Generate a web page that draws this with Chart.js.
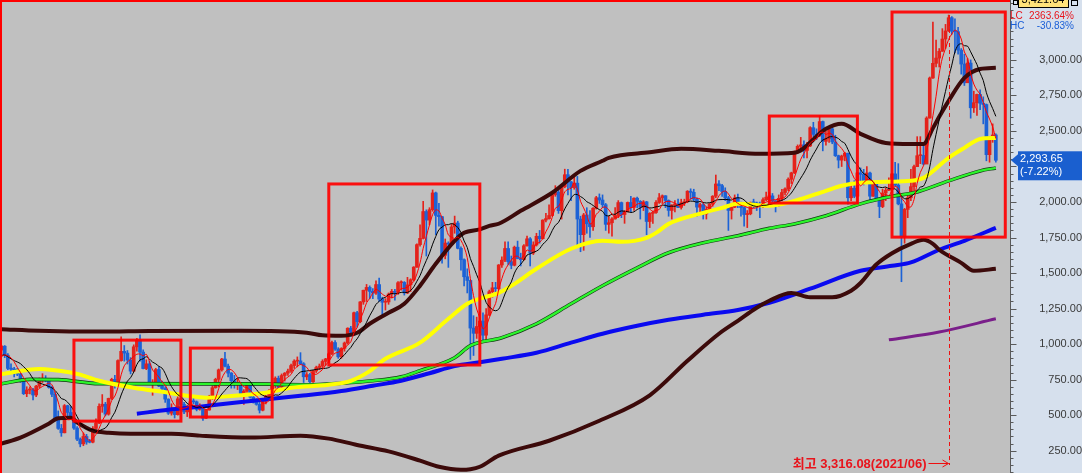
<!DOCTYPE html>
<html>
<head>
<meta charset="utf-8">
<script src="https://cdn.jsdelivr.net/npm/chart.js@4.4.0/dist/chart.umd.min.js"></script>
<style>
  html, body { margin: 0; padding: 0; background: #d6e0ed; }
  #wrap { width: 1082px; height: 473px; }
</style>
</head>
<body>
<div id="wrap"><canvas id="chart" width="1082" height="473"></canvas></div>
<script>
// Monthly candles, 1996/05 .. 2022/09
const opens = [
  958, 985, 922, 829, 824, 818, 789, 743,
  651, 677, 678, 642, 704, 741, 745, 741, 696, 647, 470, 407,
  376, 567, 519, 481, 409, 331, 298, 350, 311, 310, 407, 445,
  562, 577, 507, 618, 752, 716, 884, 949, 937, 888, 810, 981,
  1028, 944, 828, 861, 725, 731, 821, 705, 688, 613, 514, 526,
  504, 615, 576, 523, 562, 595, 594, 541, 546, 479, 536, 633,
  693, 752, 819, 895, 845, 796, 742, 716, 722, 646, 669, 718,
  627, 591, 576, 535, 599, 633, 670, 719, 760, 697, 779, 796,
  810, 849, 880, 882, 862, 770, 785, 735, 811, 835, 845, 878,
  896, 932, 1011, 965, 911, 970, 1008, 1112, 1083, 1221, 1158, 1297,
  1379, 1399, 1371, 1359, 1419, 1317, 1295, 1297, 1352, 1371, 1364, 1432,
  1434, 1360, 1417, 1453, 1542, 1700, 1744, 1933, 1873, 1946, 2064, 1906,
  1897, 1625, 1711, 1704, 1825, 1852, 1674, 1594, 1474, 1448, 1113, 1076,
  1124, 1162, 1063, 1206, 1369, 1396, 1390, 1557, 1591, 1673, 1580, 1555,
  1682, 1602, 1594, 1692, 1741, 1641, 1698, 1759, 1742, 1873, 1883, 1905,
  2051, 2069, 1939, 2107, 2192, 2142, 2101, 2133, 1880, 1770, 1909, 1847,
  1826, 1956, 2030, 2014, 1981, 1843, 1854, 1881, 1905, 1996, 1912, 1933,
  1997, 1962, 2027, 2005, 1964, 2001, 1863, 1920, 1926, 1997, 2030, 2044,
  2011, 1941, 1980, 1986, 1962, 1995, 2002, 2076, 2068, 2020, 1964, 1981,
  1916, 1949, 1986, 2041, 2127, 2115, 2074, 2030, 1941, 1963, 2029, 1991,
  1961, 1912, 1917, 1996, 1994, 1983, 1970, 2016, 2034, 2043, 2008, 1983,
  2026, 2067, 2092, 2160, 2205, 2347, 2392, 2402, 2363, 2394, 2523, 2476,
  2467, 2566, 2427, 2445, 2515, 2423, 2326, 2295, 2323, 2343, 2030, 2097,
  2041, 2205, 2195, 2141, 2204, 2041, 2131, 2025, 1968, 2063, 2083, 2088,
  2198, 2119, 1987, 1755, 1948, 2030, 2108, 2249, 2326, 2328, 2267, 2591,
  2873, 2976, 3013, 3061, 3147, 3204, 3297, 3202, 3199, 3069, 2971, 2839,
  2978, 2663, 2699, 2757, 2695, 2686, 2333, 2452, 2472
];
const highs = [
  992, 990, 934, 862, 836, 830, 800, 755,
  700, 700, 688, 710, 762, 792, 778, 750, 705, 660, 530, 435,
  575, 570, 560, 490, 420, 340, 375, 365, 330, 420, 475, 580,
  645, 590, 620, 760, 780, 890, 1052, 990, 955, 905, 995, 1040,
  1066, 960, 890, 880, 750, 830, 840, 740, 700, 615, 580, 545,
  630, 625, 590, 570, 610, 630, 600, 580, 550, 540, 640, 705,
  760, 825, 900, 943, 860, 800, 780, 760, 725, 680, 730, 730,
  640, 615, 590, 610, 640, 680, 730, 770, 775, 790, 800, 825,
  860, 890, 910, 940, 870, 800, 795, 815, 845, 860, 890, 900,
  940, 1022, 1025, 975, 975, 1015, 1115, 1125, 1225, 1230, 1300, 1380,
  1420, 1410, 1390, 1445, 1465, 1330, 1320, 1360, 1385, 1385, 1440, 1445,
  1440, 1470, 1460, 1545, 1705, 1840, 2005, 1945, 1960, 2085, 2070, 1990,
  1900, 1740, 1720, 1845, 1901, 1865, 1685, 1600, 1530, 1450, 1200, 1190,
  1230, 1220, 1250, 1380, 1435, 1435, 1560, 1615, 1720, 1720, 1620, 1690,
  1725, 1640, 1700, 1760, 1750, 1720, 1780, 1800, 1875, 1920, 1980, 2055,
  2115, 2090, 2110, 2231, 2230, 2145, 2190, 2180, 1900, 1920, 1960, 1940,
  1960, 2040, 2057, 2050, 1990, 1900, 1890, 1960, 2010, 2000, 1940, 2000,
  2040, 2030, 2035, 2010, 2010, 2005, 1925, 1935, 2010, 2060, 2050, 2045,
  2015, 1980, 2010, 2020, 2020, 2020, 2080, 2093, 2090, 2030, 1990, 1990,
  1965, 1990, 2045, 2190, 2150, 2125, 2100, 2040, 1990, 2050, 2055, 2000,
  1965, 1940, 2000, 2020, 2000, 2000, 2030, 2070, 2070, 2060, 2010, 2050,
  2090, 2100, 2170, 2210, 2360, 2402, 2455, 2430, 2420, 2530, 2561, 2515,
  2607, 2570, 2500, 2520, 2530, 2470, 2330, 2330, 2350, 2345, 2120, 2150,
  2210, 2240, 2230, 2250, 2210, 2140, 2140, 2030, 2090, 2100, 2170, 2200,
  2280, 2270, 2060, 1955, 2060, 2230, 2260, 2460, 2460, 2420, 2600, 2880,
  3266, 3140, 3080, 3220, 3250, 3316.08, 3305, 3290, 3230, 3080, 3040, 3010,
  3000, 2780, 2760, 2790, 2740, 2690, 2460, 2550, 2480
];
const lows = [
  931, 905, 820, 808, 770, 778, 730, 645,
  630, 650, 607, 630, 690, 730, 735, 690, 630, 460, 400, 351,
  375, 490, 475, 400, 320, 277, 285, 295, 305, 305, 400, 440,
  520, 495, 500, 610, 690, 710, 880, 880, 860, 790, 805, 950,
  880, 825, 820, 720, 640, 725, 700, 670, 590, 505, 500, 480,
  500, 570, 510, 490, 550, 580, 530, 535, 463, 475, 535, 610,
  690, 700, 810, 840, 770, 690, 690, 680, 640, 575, 660, 620,
  585, 570, 515, 530, 580, 620, 660, 690, 680, 690, 740, 780,
  800, 830, 840, 855, 730, 750, 719, 730, 800, 820, 830, 850,
  870, 925, 955, 900, 900, 950, 1000, 1055, 1075, 1120, 1150, 1280,
  1300, 1320, 1320, 1350, 1300, 1200, 1240, 1280, 1325, 1310, 1350, 1380,
  1345, 1355, 1370, 1445, 1540, 1690, 1740, 1620, 1840, 1935, 1770, 1830,
  1570, 1600, 1540, 1700, 1780, 1670, 1520, 1410, 1360, 892, 920, 1040,
  1080, 1018, 1020, 1200, 1330, 1340, 1380, 1540, 1580, 1560, 1530, 1550,
  1600, 1550, 1590, 1690, 1550, 1630, 1690, 1710, 1740, 1860, 1880, 1900,
  2040, 1920, 1880, 2100, 2050, 2010, 2090, 1680, 1650, 1660, 1780, 1750,
  1800, 1950, 1990, 1960, 1800, 1780, 1760, 1880, 1890, 1890, 1850, 1930,
  1930, 1940, 1960, 1880, 1940, 1770, 1820, 1850, 1920, 1990, 1990, 1960,
  1900, 1880, 1930, 1960, 1950, 1975, 1995, 2020, 2010, 1900, 1930, 1880,
  1880, 1940, 1970, 2030, 2080, 2040, 2010, 1800, 1880, 1960, 1960, 1900,
  1830, 1820, 1910, 1960, 1940, 1890, 1960, 2010, 1990, 2000, 1930, 1970,
  2010, 2050, 2080, 2130, 2200, 2340, 2380, 2310, 2310, 2390, 2460, 2440,
  2460, 2360, 2400, 2420, 2410, 2320, 2240, 2250, 2290, 1985, 2010, 2030,
  1990, 2150, 2120, 2140, 2010, 2040, 2010, 1890, 1960, 2010, 2080, 2070,
  2110, 1980, 1439, 1710, 1890, 2010, 2080, 2250, 2270, 2260, 2270, 2590,
  2870, 2950, 2950, 3060, 3080, 3200, 3180, 3050, 3040, 2900, 2820, 2840,
  2590, 2630, 2610, 2650, 2550, 2290, 2280, 2420, 2280
];
const closes = [
  985, 922, 829, 824, 818, 789, 743, 651,
  677, 678, 642, 704, 741, 745, 741, 696, 647, 470, 407, 376,
  567, 519, 481, 409, 331, 298, 350, 311, 310, 407, 445, 562,
  577, 507, 618, 752, 716, 884, 949, 937, 888, 810, 981, 1028,
  944, 828, 861, 725, 731, 821, 705, 688, 613, 514, 526, 504,
  615, 576, 523, 562, 595, 594, 541, 546, 479, 536, 633, 693,
  752, 819, 895, 845, 796, 742, 716, 722, 646, 669, 718, 627,
  591, 576, 535, 599, 633, 670, 719, 760, 697, 779, 796, 810,
  849, 880, 882, 862, 770, 785, 735, 811, 835, 845, 878, 896,
  932, 1011, 965, 911, 970, 1008, 1112, 1083, 1221, 1158, 1297, 1379,
  1399, 1371, 1359, 1419, 1317, 1295, 1297, 1352, 1371, 1364, 1432, 1434,
  1360, 1417, 1453, 1542, 1700, 1744, 1933, 1873, 1946, 2064, 1906, 1897,
  1625, 1711, 1704, 1825, 1852, 1674, 1594, 1474, 1448, 1113, 1076, 1124,
  1162, 1063, 1206, 1369, 1396, 1390, 1557, 1591, 1673, 1580, 1555, 1682,
  1602, 1594, 1692, 1741, 1641, 1698, 1759, 1742, 1873, 1883, 1905, 2051,
  2069, 1939, 2107, 2192, 2142, 2101, 2133, 1880, 1770, 1909, 1847, 1826,
  1956, 2030, 2014, 1981, 1843, 1854, 1881, 1905, 1996, 1912, 1933, 1997,
  1962, 2027, 2005, 1964, 2001, 1863, 1920, 1926, 1997, 2030, 2044, 2011,
  1941, 1980, 1986, 1962, 1995, 2002, 2076, 2068, 2020, 1964, 1981, 1916,
  1949, 1986, 2041, 2127, 2115, 2074, 2030, 1941, 1963, 2029, 1991, 1961,
  1912, 1917, 1996, 1994, 1983, 1970, 2016, 2034, 2043, 2008, 1983, 2026,
  2067, 2092, 2160, 2205, 2347, 2392, 2402, 2363, 2394, 2523, 2476, 2467,
  2566, 2427, 2445, 2515, 2423, 2326, 2295, 2323, 2343, 2030, 2097, 2041,
  2205, 2195, 2141, 2204, 2041, 2131, 2025, 1968, 2063, 2083, 2088, 2198,
  2119, 1987, 1755, 1948, 2030, 2108, 2249, 2326, 2328, 2267, 2591, 2873,
  2976, 3013, 3061, 3147, 3204, 3297, 3202, 3199, 3069, 2971, 2839, 2978,
  2663, 2699, 2757, 2695, 2686, 2333, 2452, 2472, 2293.65
];
// closes 1995/08 .. 1996/04, only used to warm up the short averages
const warmupCloses = [901, 955, 968, 946, 883, 861, 866, 891, 958];

// long averages and bands: [month, value]
const ma60 = [
  ['1996/05', 790], ['1997/05', 825], ['1998/03', 800], ['1998/06', 785], ['1998/12', 742],
  ['1999/11', 693], ['2000/10', 658], ['2001/04', 637], ['2001/10', 623], ['2002/07', 637],
  ['2003/05', 658], ['2004/01', 693], ['2005/01', 714], ['2005/08', 742], ['2006/02', 810],
  ['2006/07', 897], ['2007/06', 1010], ['2008/03', 1178], ['2008/09', 1284], ['2009/01', 1320],
  ['2009/07', 1361], ['2009/11', 1410], ['2010/07', 1530], ['2011/06', 1671], ['2012/04', 1727],
  ['2012/10', 1720], ['2013/06', 1748], ['2013/09', 1783], ['2014/01', 1846], ['2014/12', 1924],
  ['2015/06', 1959], ['2015/11', 1987], ['2016/09', 1973], ['2017/05', 2008], ['2018/03', 2079],
  ['2018/08', 2114], ['2019/02', 2135], ['2019/10', 2142], ['2020/06', 2149], ['2020/10', 2170],
  ['2021/06', 2311], ['2021/11', 2381], ['2022/04', 2444], ['2022/09', 2451]
];
const ma120 = [
  ['1996/05', 721], ['1997/02', 752], ['1997/11', 750], ['1998/12', 722], ['2002/12', 720],
  ['2004/06', 714], ['2005/05', 725], ['2006/03', 742], ['2006/12', 770], ['2007/06', 813],
  ['2008/05', 904], ['2008/10', 989], ['2009/08', 1045], ['2010/07', 1143], ['2011/06', 1284],
  ['2012/04', 1411], ['2013/03', 1537], ['2014/01', 1643], ['2014/12', 1713], ['2015/11', 1762],
  ['2016/09', 1815], ['2017/05', 1846], ['2018/03', 1903], ['2019/02', 1987], ['2019/12', 2040],
  ['2020/07', 2065], ['2021/06', 2149], ['2022/04', 2219], ['2022/09', 2240]
];
const ma240 = [
  ['1999/12', 510], ['2000/10', 538], ['2001/08', 560], ['2002/07', 588], ['2003/07', 616],
  ['2004/04', 636], ['2005/05', 670], ['2006/03', 707], ['2006/12', 742], ['2007/09', 795],
  ['2008/05', 845], ['2009/01', 872], ['2009/08', 897], ['2010/07', 939], ['2011/06', 1010],
  ['2012/04', 1073], ['2013/03', 1129], ['2014/01', 1171], ['2014/12', 1207], ['2015/11', 1240],
  ['2016/09', 1291], ['2017/10', 1390], ['2019/02', 1516], ['2019/12', 1551], ['2020/06', 1575],
  ['2021/03', 1664], ['2021/11', 1727], ['2022/09', 1818]
];
const ma480 = [['2019/11', 1030], ['2021/03', 1085], ['2022/09', 1178]];
const bandUpper = [
  ['1996/05', 1105], ['1997/05', 1094], ['1998/12', 1088], ['2000/04', 1092], ['2002/09', 1094],
  ['2004/06', 1080], ['2004/11', 1062], ['2005/05', 1059], ['2005/10', 1080], ['2006/02', 1143],
  ['2006/08', 1220], ['2007/01', 1284], ['2007/06', 1411], ['2007/11', 1565], ['2008/05', 1727],
  ['2008/08', 1783], ['2009/01', 1808], ['2009/04', 1832], ['2009/07', 1847], ['2010/02', 1938],
  ['2010/12', 2065], ['2011/09', 2219], ['2012/04', 2290], ['2012/06', 2311], ['2013/07', 2350],
  ['2014/05', 2374], ['2015/05', 2360], ['2016/06', 2339], ['2017/05', 2346], ['2018/03', 2515],
  ['2018/08', 2550], ['2019/02', 2480], ['2019/10', 2416], ['2020/06', 2409], ['2020/10', 2409],
  ['2021/01', 2520], ['2021/03', 2600], ['2021/06', 2712], ['2021/11', 2873], ['2022/04', 2936],
  ['2022/09', 2944]
];
const bandLower = [
  ['1996/05', 300], ['1996/11', 342], ['1997/08', 440], ['1997/11', 478], ['1998/03', 482],
  ['1998/05', 450], ['1998/10', 391], ['1999/03', 377], ['1999/10', 370], ['2000/11', 370],
  ['2001/08', 356], ['2002/12', 342], ['2004/04', 356], ['2005/01', 335], ['2005/10', 290],
  ['2006/08', 245], ['2007/06', 180], ['2007/12', 137], ['2008/07', 116], ['2008/10', 120],
  ['2009/01', 137], ['2009/07', 215], ['2010/11', 320], ['2012/03', 461], ['2013/07', 640],
  ['2014/07', 883], ['2015/05', 1073], ['2015/11', 1164], ['2016/05', 1256], ['2016/09', 1305],
  ['2017/04', 1360], ['2017/10', 1330], ['2018/05', 1330], ['2018/11', 1376], ['2019/02', 1430],
  ['2019/07', 1560], ['2019/12', 1640], ['2020/06', 1706], ['2020/10', 1734], ['2021/01', 1706],
  ['2021/03', 1664], ['2021/10', 1572], ['2022/02', 1516], ['2022/09', 1530]
];

// highlighted periods: [from, to, low, high]
const boxes = [
  ['1998/04', '2001/02', 458, 1028],
  ['2001/05', '2003/07', 487, 972],
  ['2005/01', '2009/01', 853, 2127],
  ['2016/09', '2019/01', 1993, 2605],
  ['2019/12', '2022/12', 1753, 3337]
];

const yTicks = [250, 500, 750, 1000, 1250, 1500, 1750, 2000, 2250, 2500, 2750, 3000];
const yMin = 93, yMax = 3421.64;
const minorStep = 50;
const peakLabel = '2021/06', peakValue = 3316.08;
const peakText = '최고 3,316.08(2021/06)';
const lastClose = 2293.65, lastChange = '(-7.22%)';
const lcText = '2363.64%', hcText = '-30.83%';

// month labels 1996/05 .. 2023/01
const labels = [];
for (let k = 0; k < 321; k++) {
  const m = 4 + k;
  labels.push(`${1996 + Math.floor(m / 12)}/${String(m % 12 + 1).padStart(2, '0')}`);
}

const RED = '#e4221b', BLUE = '#1c62d6';
const candleColors = closes.map((c, i) => c >= opens[i] ? RED : BLUE);

function movingAverage(period) {
  const all = warmupCloses.concat(closes);
  const off = warmupCloses.length;
  return closes.map((c, i) => {
    const end = i + off;
    if (end - period + 1 < 0) return null;
    let sum = 0;
    for (let k = end - period + 1; k <= end; k++) sum += all[k];
    return sum / period;
  });
}

const toPoints = arr => arr.map(([x, y]) => ({ x, y }));
const fmt = v => Number(v).toLocaleString('en-US', { minimumFractionDigits: 2, maximumFractionDigits: 2 });

function sparseLine(data, color, width, order) {
  return {
    type: 'line', data: toPoints(data), borderColor: color, borderWidth: width,
    pointRadius: 0, cubicInterpolationMode: 'monotone', order: order, fill: false
  };
}

const backdrop = {
  id: 'backdrop',
  beforeDraw(chart) {
    const { ctx, chartArea: a, width, height } = chart;
    ctx.save();
    ctx.fillStyle = '#d6e0ed';
    ctx.fillRect(0, 0, width, height);
    ctx.fillStyle = '#c0c0c0';
    ctx.fillRect(a.left, a.top, a.right - a.left, a.bottom - a.top);
    ctx.restore();
  }
};

const overlay = {
  id: 'overlay',
  afterDraw(chart) {
    const { ctx, chartArea: a, scales: { x, y } } = chart;
    ctx.save();

    // red highlight boxes
    ctx.strokeStyle = 'rgba(255,0,0,0.92)';
    ctx.lineWidth = 3;
    boxes.forEach(([from, to, low, high]) => {
      const x0 = x.getPixelForValue(labels.indexOf(from));
      const x1 = x.getPixelForValue(labels.indexOf(to));
      const y0 = y.getPixelForValue(high);
      const y1 = y.getPixelForValue(low);
      ctx.strokeRect(x0, y0, x1 - x0, y1 - y0);
    });

    // peak marker
    const px = Math.round(x.getPixelForValue(labels.indexOf(peakLabel))) + 0.5;
    const by = a.bottom - 10;
    ctx.strokeStyle = '#ee1010';
    ctx.lineWidth = 1;
    ctx.setLineDash([4, 3]);
    ctx.beginPath();
    ctx.moveTo(px, y.getPixelForValue(peakValue));
    ctx.lineTo(px, by + 2);
    ctx.stroke();
    ctx.setLineDash([]);
    ctx.beginPath();
    ctx.moveTo(px - 21, by + 0.5);
    ctx.lineTo(px - 1, by + 0.5);
    ctx.moveTo(px - 7, by - 3);
    ctx.lineTo(px - 1, by + 0.5);
    ctx.lineTo(px - 7, by + 4);
    ctx.stroke();
    ctx.fillStyle = '#e8141c';
    ctx.font = "bold 13px 'Liberation Sans', 'Noto Sans CJK KR', sans-serif";
    ctx.textAlign = 'right';
    ctx.textBaseline = 'middle';
    ctx.fillText(peakText, px - 23, by + 1);

    // frame of the plot
    ctx.fillStyle = '#ff0000';
    ctx.fillRect(0, 0, a.right, 2);
    ctx.fillRect(0, 0, 2, a.bottom);

    // axis line and tick marks
    const ax = Math.round(a.right) + 0.5;
    ctx.strokeStyle = '#5a5a5a';
    ctx.beginPath();
    ctx.moveTo(ax, a.top);
    ctx.lineTo(ax, a.bottom);
    for (let v = Math.ceil(yMin / minorStep) * minorStep; v <= yMax; v += minorStep) {
      const ty = Math.round(y.getPixelForValue(v)) + 0.5;
      const len = v % 250 === 0 ? 6 : 3;
      ctx.moveTo(ax, ty);
      ctx.lineTo(ax + len, ty);
    }
    ctx.stroke();

    // last price tag
    const ly = y.getPixelForValue(lastClose);
    ctx.fillStyle = '#1a5fcf';
    ctx.beginPath();
    ctx.moveTo(a.right + 1, ly);
    ctx.lineTo(a.right + 8, ly - 6);
    ctx.lineTo(a.right + 8, ly + 6);
    ctx.closePath();
    ctx.fill();
    ctx.fillRect(a.right + 8, ly - 9, 72, 29);
    ctx.fillStyle = '#ffffff';
    ctx.font = "11px 'Liberation Sans', Arial, sans-serif";
    ctx.textAlign = 'left';
    ctx.fillText(fmt(lastClose), a.right + 10, ly - 1);
    ctx.fillText(lastChange, a.right + 10, ly + 12);

    // top value label
    ctx.fillStyle = '#ffe27a';
    ctx.fillRect(a.right + 8, -7, 50, 14);
    ctx.strokeStyle = '#000';
    ctx.strokeRect(a.right + 8.5, -6.5, 50, 14);
    ctx.fillStyle = '#000';
    ctx.textAlign = 'center';
    ctx.fillText(fmt(yMax), a.right + 33, 0);
    ctx.strokeRect(a.right + 3.5, 0.5, 4, 4);
    ctx.strokeRect(a.right + 61.5, 0.5, 6, 5);

    // LC / HC readout
    ctx.font = "10px 'Liberation Sans', Arial, sans-serif";
    ctx.textAlign = 'left';
    ctx.fillStyle = '#e8141c';
    ctx.fillText('LC', a.right, 16);
    ctx.textAlign = 'right';
    ctx.fillText(lcText, a.right + 64, 16);
    ctx.fillStyle = '#1a5fd8';
    ctx.textAlign = 'left';
    ctx.fillText('HC', a.right, 26);
    ctx.textAlign = 'right';
    ctx.fillText(hcText, a.right + 64, 26);

    ctx.restore();
  }
};

new Chart(document.getElementById('chart'), {
  type: 'bar',
  data: {
    labels: labels,
    datasets: [
      {
        label: 'ma5', type: 'line', data: movingAverage(5), borderColor: '#ff0000',
        borderWidth: 1, pointRadius: 0, tension: 0.3, order: 1
      },
      {
        label: 'ma10', type: 'line', data: movingAverage(10), borderColor: '#000000',
        borderWidth: 1, pointRadius: 0, tension: 0.3, order: 2
      },
      sparseLine(bandUpper, '#3c0a0a', 4, 3),
      sparseLine(bandLower, '#3c0a0a', 4, 3),
      sparseLine(ma60, '#ffff00', 4, 4),
      sparseLine(ma120, '#2cf52c', 2.4, 5),
      sparseLine(ma120, '#143814', 3.6, 6),
      sparseLine(ma240, '#0a0af0', 4, 7),
      sparseLine(ma480, '#7a1f8a', 3, 7),
      {
        label: 'body', data: opens.map((o, i) => [o, closes[i]]),
        backgroundColor: candleColors, barThickness: 3, minBarLength: 1,
        grouped: false, order: 8
      },
      {
        label: 'wick', data: lows.map((l, i) => [l, highs[i]]),
        backgroundColor: candleColors, barThickness: 1,
        grouped: false, order: 9
      }
    ]
  },
  options: {
    responsive: false,
    animation: false,
    devicePixelRatio: 1,
    events: [],
    layout: { padding: 0 },
    plugins: { legend: { display: false }, tooltip: { enabled: false } },
    scales: {
      x: { display: false, offset: true },
      y: {
        position: 'right',
        min: yMin,
        max: yMax,
        afterBuildTicks: s => { s.ticks = yTicks.map(v => ({ value: v })); },
        afterFit: s => { s.width = 72; s.paddingTop = 0; s.paddingBottom = 0; },
        grid: { display: false, drawTicks: false },
        border: { display: false },
        ticks: {
          crossAlign: 'far',
          padding: 10,
          color: '#3a3a3a',
          font: { family: "'Liberation Sans', Arial, sans-serif", size: 11 },
          callback: v => fmt(v)
        }
      }
    }
  },
  plugins: [backdrop, overlay]
});
</script>
</body>
</html>
